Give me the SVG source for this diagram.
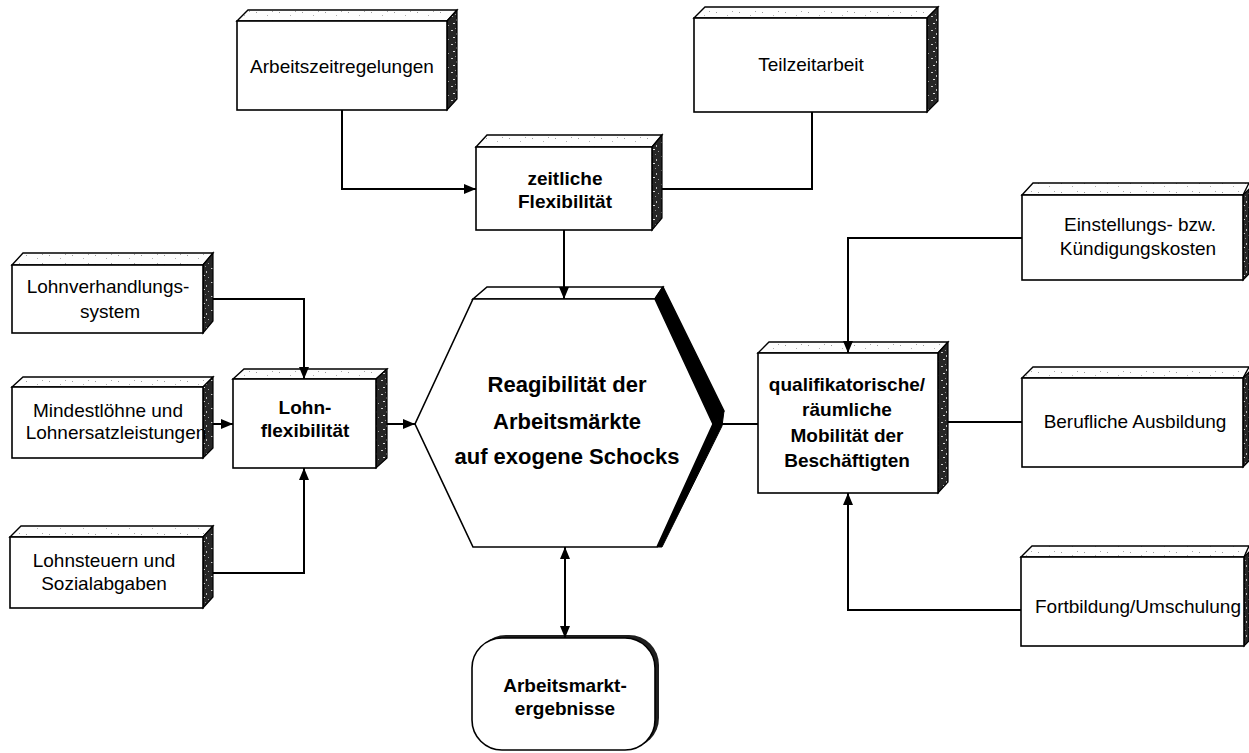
<svg xmlns="http://www.w3.org/2000/svg" width="1249" height="753" viewBox="0 0 1249 753">
<defs>
<pattern id="side" width="10" height="14" patternUnits="userSpaceOnUse">
<rect width="10" height="14" fill="#262626"/>
<rect x="1" y="2" width="2" height="1" fill="#cfcfcf"/>
<rect x="6" y="5" width="1" height="2" fill="#bdbdbd"/>
<rect x="3" y="9" width="2" height="1" fill="#e0e0e0"/>
<rect x="8" y="11" width="1" height="1" fill="#a0a0a0"/>
<rect x="5" y="0" width="1" height="1" fill="#909090"/>
</pattern>
<pattern id="top" width="23" height="9" patternUnits="userSpaceOnUse">
<rect width="23" height="9" fill="#fdfdfd"/>
<rect x="3" y="3" width="1" height="1" fill="#9a9a9a"/>
<rect x="14" y="6" width="1" height="1" fill="#b0b0b0"/>
<rect x="19" y="2" width="1" height="1" fill="#a5a5a5"/>
</pattern>
<marker id="ah" viewBox="0 0 12 10" refX="12" refY="5" markerWidth="12" markerHeight="10" markerUnits="userSpaceOnUse" orient="auto-start-reverse">
<path d="M0,0 L12,5 L0,10 Z" fill="#000"/>
</marker>
</defs>
<style>
.front{fill:#fff;stroke:#000;stroke-width:1.6}
.topf{fill:url(#top);stroke:#000;stroke-width:1.4}
.sidef{fill:url(#side);stroke:#000;stroke-width:1.2}
.t{font-family:"Liberation Sans",Arial,sans-serif;font-size:19px;text-anchor:middle;fill:#000}
.b{font-family:"Liberation Sans",Arial,sans-serif;font-size:19px;font-weight:bold;text-anchor:middle;fill:#000}
.h{font-family:"Liberation Sans",Arial,sans-serif;font-size:22px;font-weight:bold;text-anchor:middle;fill:#000}
.c{fill:none;stroke:#000;stroke-width:2}
</style>
<rect width="1249" height="753" fill="#fff"/>

<g id="arbeitszeitregelungen">
<polygon class="topf" points="237,21 248,10 457,10 447,21"/>
<polygon class="sidef" points="447,21 457,10 457,99 447,110"/>
<rect class="front" x="237" y="21" width="210" height="89"/>
<text class="t" x="342" y="73">Arbeitszeitregelungen</text>
</g>

<g id="teilzeitarbeit">
<polygon class="topf" points="694,18 705,7 938,7 927,18"/>
<polygon class="sidef" points="927,18 938,7 938,101 927,112"/>
<rect class="front" x="694" y="18" width="233" height="94"/>
<text class="t" x="811" y="71">Teilzeitarbeit</text>
</g>

<g id="zeitliche">
<polygon class="topf" points="476,147 487,135 662,135 652,147"/>
<polygon class="sidef" points="652,147 662,135 662,218 652,230"/>
<rect class="front" x="476" y="147" width="176" height="83"/>
<text class="b" x="565" y="185">zeitliche</text>
<text class="b" x="565" y="208">Flexibilität</text>
</g>

<g id="einstellungs">
<polygon class="topf" points="1022,195 1033,183 1249,183 1243,195"/>
<polygon class="sidef" points="1243,195 1249,189 1249,274 1243,280"/>
<rect class="front" x="1022" y="195" width="221" height="85"/>
<text class="t" x="1140" y="231">Einstellungs- bzw.</text>
<text class="t" x="1138" y="255">Kündigungskosten</text>
</g>

<g id="qualifikatorische">
<polygon class="topf" points="758,353 769,342 948,342 938,353"/>
<polygon class="sidef" points="938,353 948,342 948,482 938,493"/>
<rect class="front" x="758" y="353" width="180" height="140"/>
<text class="b" x="847" y="391">qualifikatorische/</text>
<text class="b" x="847" y="416">räumliche</text>
<text class="b" x="847" y="442">Mobilität der</text>
<text class="b" x="847" y="467">Beschäftigten</text>
</g>

<g id="berufliche">
<polygon class="topf" points="1022,378 1033,367 1249,367 1243,378"/>
<polygon class="sidef" points="1243,378 1249,372 1249,461 1243,467"/>
<rect class="front" x="1022" y="378" width="221" height="89"/>
<text class="t" x="1135" y="428">Berufliche Ausbildung</text>
</g>

<g id="fortbildung">
<polygon class="topf" points="1021,557 1032,546 1249,546 1244,557"/>
<polygon class="sidef" points="1244,557 1249,552 1249,641 1244,646"/>
<rect class="front" x="1021" y="557" width="223" height="89"/>
<text class="t" x="1138" y="613">Fortbildung/Umschulung</text>
</g>

<g id="lohnverhandlung">
<polygon class="topf" points="12,265 23,253 213,253 203,265"/>
<polygon class="sidef" points="203,265 213,253 213,321 203,333"/>
<rect class="front" x="12" y="265" width="191" height="68"/>
<text class="t" x="108" y="293">Lohnverhandlungs-</text>
<text class="t" x="110" y="318">system</text>
</g>

<g id="mindestloehne">
<polygon class="topf" points="12,387 23,377 213,377 203,387"/>
<polygon class="sidef" points="203,387 213,377 213,448 203,458"/>
<rect class="front" x="12" y="387" width="191" height="71"/>
<text class="t" x="108" y="417">Mindestlöhne und</text>
<text class="t" x="116" y="439">Lohnersatzleistungen</text>
</g>

<g id="lohnsteuern">
<polygon class="topf" points="10,537 21,526 213,526 203,537"/>
<polygon class="sidef" points="203,537 213,526 213,597 203,608"/>
<rect class="front" x="10" y="537" width="193" height="71"/>
<text class="t" x="104" y="567">Lohnsteuern und</text>
<text class="t" x="104" y="590">Sozialabgaben</text>
</g>

<g id="lohnflexibilitaet">
<polygon class="topf" points="233,379 244,369 387,369 376,379"/>
<polygon class="sidef" points="376,379 387,369 387,458 376,468"/>
<rect class="front" x="233" y="379" width="143" height="89"/>
<text class="b" x="305" y="414">Lohn-</text>
<text class="b" x="305" y="437">flexibilität</text>
</g>

<g id="reagibilitaet">
<polygon points="473,299 487,287 663,287 655,299" fill="#fff" stroke="#000" stroke-width="1.6"/>
<polygon points="655,299 663,287 724,411 713,424" fill="#000" stroke="#000" stroke-width="1.4"/>
<polygon points="713,424 724,411 722,426 662,547 657,547" fill="#000" stroke="#000" stroke-width="1"/>
<polygon points="473,299 655,299 713,424 657,547 473,547 415,424" fill="#fff" stroke="#000" stroke-width="1.6"/>
<text class="h" x="567" y="392">Reagibilität der</text>
<text class="h" x="567" y="429">Arbeitsmärkte</text>
<text class="h" x="567" y="464">auf exogene Schocks</text>
</g>

<g id="arbeitsmarktergebnisse">
<rect x="476" y="635" width="183" height="113" rx="30" ry="30" fill="#1e1e1e"/>
<rect x="472" y="638" width="183" height="112" rx="30" ry="30" fill="#fff" stroke="#000" stroke-width="1.6"/>
<text class="b" x="565" y="692">Arbeitsmarkt-</text>
<text class="b" x="565" y="715">ergebnisse</text>
</g>

<g id="connectors">
<path class="c" d="M342,110 V189 H476" marker-end="url(#ah)"/>
<path class="c" d="M812,112 V189 H662"/>
<path class="c" d="M564,230 V299" marker-end="url(#ah)"/>
<path class="c" d="M213,299 H304 V379" marker-end="url(#ah)"/>
<path class="c" d="M213,424 H233" marker-end="url(#ah)"/>
<path class="c" d="M213,573 H304 V468" marker-end="url(#ah)"/>
<path class="c" d="M387,424 H415" marker-end="url(#ah)"/>
<path class="c" d="M716,424 H758"/>
<path class="c" d="M1022,238 H848 V353" marker-end="url(#ah)"/>
<path class="c" d="M1022,422 H948"/>
<path class="c" d="M1021,610 H848 V493" marker-end="url(#ah)"/>
<path class="c" d="M565,547 V638" marker-start="url(#ah)" marker-end="url(#ah)"/>
</g>
</svg>
